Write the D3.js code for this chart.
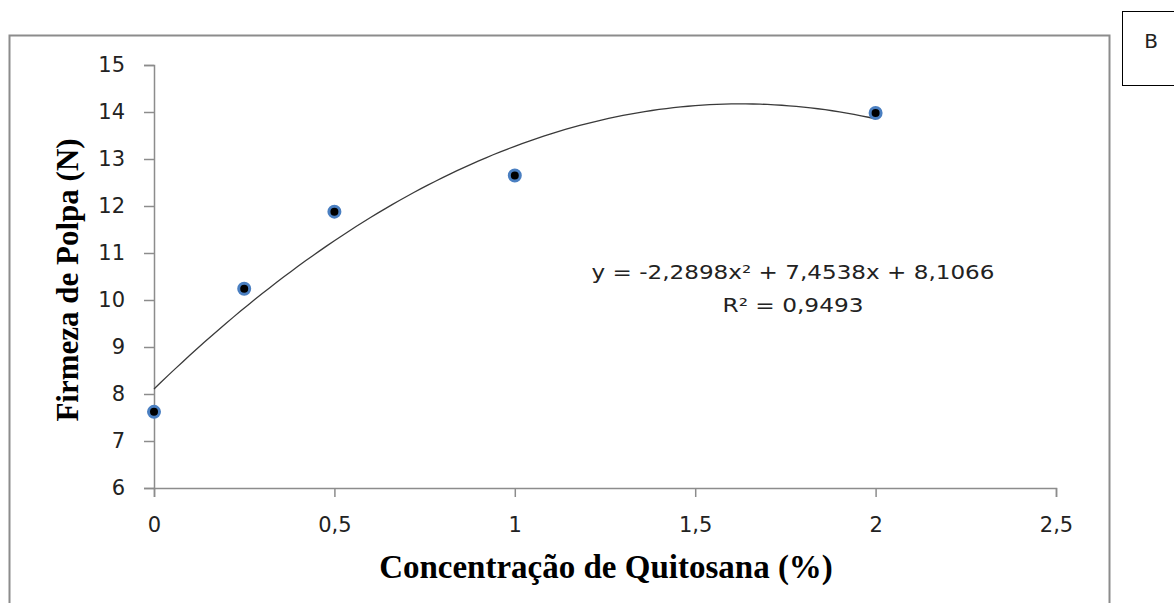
<!DOCTYPE html>
<html>
<head>
<meta charset="utf-8">
<script src="https://cdn.jsdelivr.net/npm/d3@7"></script>
<style>
    body { margin: 0; background: #fff; }
    svg { display: block; }
</style>
</head>
<body>
<div id="chart"></div>
<script>
// data
const concentrations = [0, 0.25, 0.5, 1, 2];
const firmness = [7.62, 10.24, 11.88, 12.65, 13.98];
// quadratic trendline shown on the chart: a x^2 + b x + c
const trendCoefs = [-2.2898, 7.4538, 8.1066];
const equationLines = ['y = -2,2898x² + 7,4538x + 8,1066', 'R² = 0,9493'];
const xTicks = [0, 0.5, 1, 1.5, 2, 2.5];
const yTicks = [6, 7, 8, 9, 10, 11, 12, 13, 14, 15];

const width = 1174;
const height = 603;
const margin = {top: 65, right: 118, bottom: 115, left: 154};
const sansFont = '"DejaVu Sans", "Open Sans", sans-serif';
const serifFont = '"Liberation Serif", "Times New Roman", serif';

const svg = d3.select('#chart')
    .append('svg')
        .attr('width', width)
        .attr('height', height);

// outer chart frame (bottom edge runs off the picture)
svg.append('rect')
    .attr('x', 9.5)
    .attr('y', 35.5)
    .attr('width', 1100)
    .attr('height', 600)
    .attr('fill', 'none')
    .attr('stroke', '#8c8c8c')
    .attr('stroke-width', 2);

// panel letter box
svg.append('rect')
    .attr('x', 1122.5)
    .attr('y', 11.5)
    .attr('width', 80)
    .attr('height', 74)
    .attr('fill', 'none')
    .attr('stroke', '#000')
    .attr('stroke-width', 1);
svg.append('text')
    .attr('x', 1151)
    .attr('y', 48)
    .attr('text-anchor', 'middle')
    .style('font-family', sansFont)
    .style('font-size', '20px')
    .attr('fill', '#222')
    .text('B');

const x = d3.scaleLinear()
    .domain([0, 2.5])
    .range([margin.left, width - margin.right]);
const y = d3.scaleLinear()
    .domain([6, 15])
    .range([height - margin.bottom, margin.top]);

const fmt = d => String(d).replace('.', ',');

// x axis
const xAxis = svg.append('g')
    .attr('transform', `translate(0, ${y(6)})`)
    .call(d3.axisBottom(x).tickValues(xTicks).tickFormat(fmt).tickSize(9).tickPadding(20));
// y axis
const yAxis = svg.append('g')
    .attr('transform', `translate(${x(0)}, 0)`)
    .call(d3.axisLeft(y).tickValues(yTicks).tickFormat(fmt).tickSize(10).tickPadding(19));

[xAxis, yAxis].forEach(ax => {
    ax.select('.domain').attr('stroke', '#8c8c8c').attr('stroke-width', 1.5);
    ax.selectAll('.tick line').attr('stroke', '#8c8c8c').attr('stroke-width', 1.5);
    ax.selectAll('.tick text')
        .attr('fill', '#222')
        .style('font-family', sansFont)
        .style('font-size', '21px');
});

// trendline
const trend = d3.range(0, 2.0001, 0.02).map(v => [v, trendCoefs[0] * v * v + trendCoefs[1] * v + trendCoefs[2]]);
svg.append('path')
    .datum(trend)
    .attr('fill', 'none')
    .attr('stroke', '#3a3a3a')
    .attr('stroke-width', 1.3)
    .attr('d', d3.line().x(d => x(d[0])).y(d => y(d[1])));

// points
svg.append('g')
    .selectAll('circle')
    .data(concentrations.map((c, i) => ({c, f: firmness[i]})))
    .join('circle')
        .attr('cx', d => x(d.c))
        .attr('cy', d => y(d.f))
        .attr('r', 5.5)
        .attr('fill', '#000')
        .attr('stroke', '#4a7fc1')
        .attr('stroke-width', 3);

// equation (stretched wide like the original text box)
svg.append('g')
    .selectAll('text')
    .data(equationLines)
    .join('text')
        .attr('x', 793)
        .attr('y', (d, i) => 279 + i * 33)
        .attr('text-anchor', 'middle')
        .attr('fill', '#222')
        .attr('textLength', (d, i) => i === 0 ? 403 : 141)
        .attr('lengthAdjust', 'spacingAndGlyphs')
        .style('font-family', sansFont)
        .style('font-size', '19px')
        .text(d => d);

// axis titles
svg.append('text')
    .attr('x', 606)
    .attr('y', 578)
    .attr('text-anchor', 'middle')
    .style('font-family', serifFont)
    .style('font-weight', 700)
    .style('font-size', '33px')
    .text('Concentração de Quitosana (%)');
svg.append('text')
    .attr('transform', 'translate(78, 280) rotate(-90)')
    .attr('text-anchor', 'middle')
    .style('font-family', serifFont)
    .style('font-weight', 700)
    .style('font-size', '31px')
    .text('Firmeza de Polpa (N)');
</script>
</body>
</html>
